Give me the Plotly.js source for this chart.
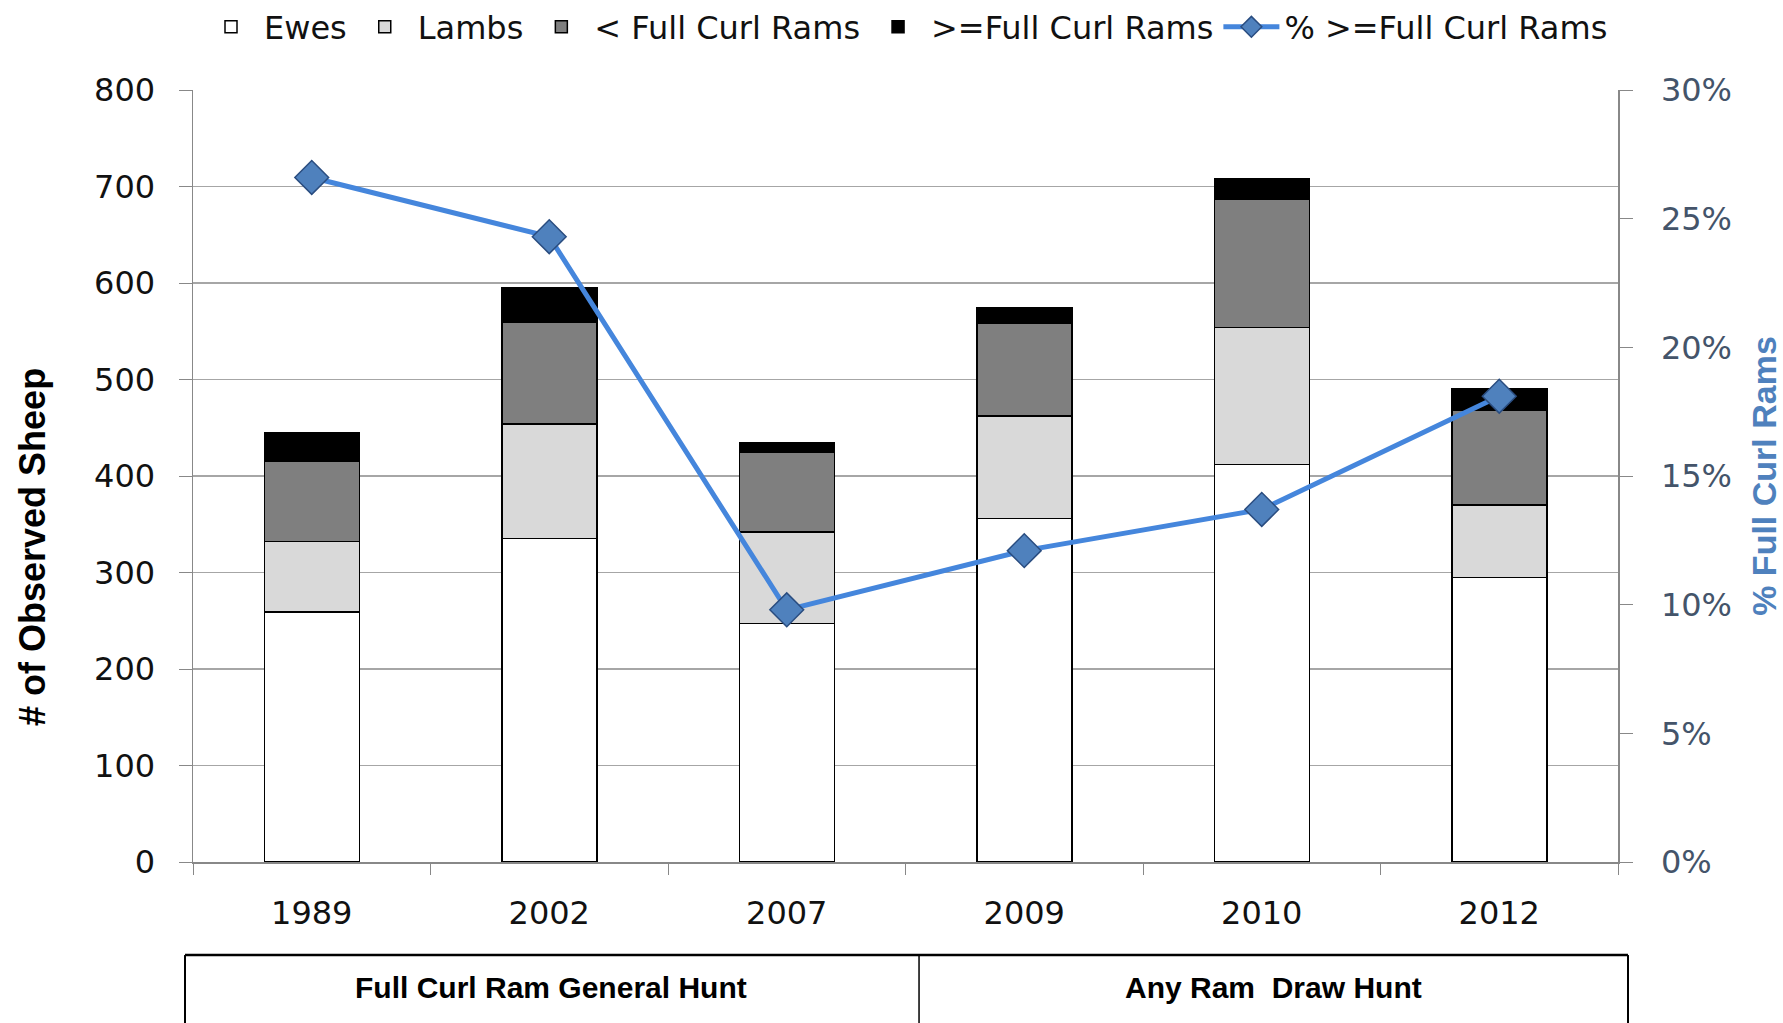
<!DOCTYPE html>
<html>
<head>
<meta charset="utf-8">
<script src="https://cdn.plot.ly/plotly-3.0.1.min.js"></script>
<style>html,body{margin:0;padding:0;background:#fff;}#chart{width:1783px;height:1023px;}</style>
</head>
<body>
<div id="chart"></div>
<script>
const years = ['1989', '2002', '2007', '2009', '2010', '2012'];
const ewes = [259, 335, 247, 356, 412, 295];
const lambs = [73, 119, 95, 106, 142, 75];
const ramsSub = [83, 105, 83, 96, 133, 98];
const ramsFull = [30, 36, 9, 16, 21, 22];
const pctFull = [0.266, 0.243, 0.098, 0.121, 0.137, 0.181];
const groupLabels = ['Full Curl Ram General Hunt', 'Any Ram  Draw Hunt'];
const leftTitle = '# of Observed Sheep';
const rightTitle = '% Full Curl Rams';

const sansFam = 'DejaVu Sans, Verdana, sans-serif';
const boldFam = 'Liberation Sans, Arial, sans-serif';
const tickFont = {family: sansFam, size: 32, color: '#111'};
const outline = {color: '#000', width: 1.5};

const data = [
  {type: 'bar', name: 'Ewes', x: years, y: ewes, marker: {color: '#ffffff', line: outline}},
  {type: 'bar', name: 'Lambs', x: years, y: lambs, marker: {color: '#d9d9d9', line: outline}},
  {type: 'bar', name: '< Full Curl Rams', x: years, y: ramsSub, marker: {color: '#7f7f7f', line: outline}},
  {type: 'bar', name: '>=Full Curl Rams', x: years, y: ramsFull, marker: {color: '#000000', line: outline}},
  {type: 'scatter', mode: 'lines+markers', name: '% >=Full Curl Rams', x: years, y: pctFull, yaxis: 'y2',
   line: {color: '#4586dc', width: 5},
   marker: {symbol: 'diamond', size: 26, color: '#4f81bd', line: {color: '#2a4d80', width: 1.5}}}
];

const annotations = groupLabels.map((t, i) => ({
  text: t, x: [0.2512, 0.7579][i], xref: 'paper', xanchor: 'center',
  y: -0.1632, yref: 'paper', yanchor: 'middle', showarrow: false,
  font: {family: boldFam, size: 30, color: '#000', weight: 'bold'}
}));
annotations.push({
  text: leftTitle, x: -0.113, xref: 'paper', xanchor: 'center',
  y: 0.408, yref: 'paper', yanchor: 'middle', textangle: -90, showarrow: false,
  font: {family: boldFam, size: 36, color: '#000', weight: 'bold'}
});

const layout = {
  width: 1783, height: 1023,
  paper_bgcolor: '#ffffff', plot_bgcolor: '#ffffff',
  margin: {l: 193, r: 165, t: 90, b: 161, autoexpand: false},
  barmode: 'stack', bargap: 0.6,
  showlegend: true,
  legend: {orientation: 'h', x: 0.5, xanchor: 'center', y: 1.0816, yanchor: 'middle',
           traceorder: 'normal', font: {family: sansFam, size: 32, color: '#111'},
           itemwidth: 56, bgcolor: 'rgba(0,0,0,0)'},
  xaxis: {type: 'category', range: [-0.5, 5.5], showline: true, linecolor: '#888', linewidth: 1.5,
          ticks: 'outside', tickson: 'boundaries', ticklen: 11, tickcolor: '#888',
          ticklabelstandoff: 22, tickfont: tickFont, showgrid: false, mirror: false},
  yaxis: {range: [0, 800], dtick: 100, showline: true, linecolor: '#888', linewidth: 1.5,
          ticks: 'outside', ticklen: 13, tickcolor: '#888', ticklabelstandoff: 17,
          gridcolor: '#a6a6a6', gridwidth: 1.2, tickfont: tickFont, zeroline: false},
  yaxis2: {range: [0, 0.30], dtick: 0.05, tickformat: '.0%', overlaying: 'y', side: 'right',
           showline: true, linecolor: '#888', linewidth: 1.5, showgrid: false, zeroline: false,
           ticks: 'outside', ticklen: 13, tickcolor: '#888', ticklabelstandoff: 22,
           tickfont: {family: sansFam, size: 32, color: '#44546a'},
           title: {text: rightTitle, font: {family: boldFam, size: 34, color: '#4f81bd', weight: 'bold'}, standoff: 24}},
  shapes: [
    {type: 'line', xref: 'paper', yref: 'paper', x0: -0.0056, x1: 1.007, y0: -0.1205, y1: -0.1205, line: {color: '#000', width: 2.5}},
    {type: 'line', xref: 'paper', yref: 'paper', x0: -0.0056, x1: -0.0056, y0: -0.1205, y1: -0.25, line: {color: '#000', width: 2}},
    {type: 'line', xref: 'paper', yref: 'paper', x0: 0.5095, x1: 0.5095, y0: -0.1205, y1: -0.25, line: {color: '#000', width: 1.5}},
    {type: 'line', xref: 'paper', yref: 'paper', x0: 1.007, x1: 1.007, y0: -0.1205, y1: -0.25, line: {color: '#000', width: 2}}
  ],
  annotations: annotations
};

Plotly.newPlot('chart', data, layout, {displayModeBar: false, staticPlot: true});
</script>
</body>
</html>
